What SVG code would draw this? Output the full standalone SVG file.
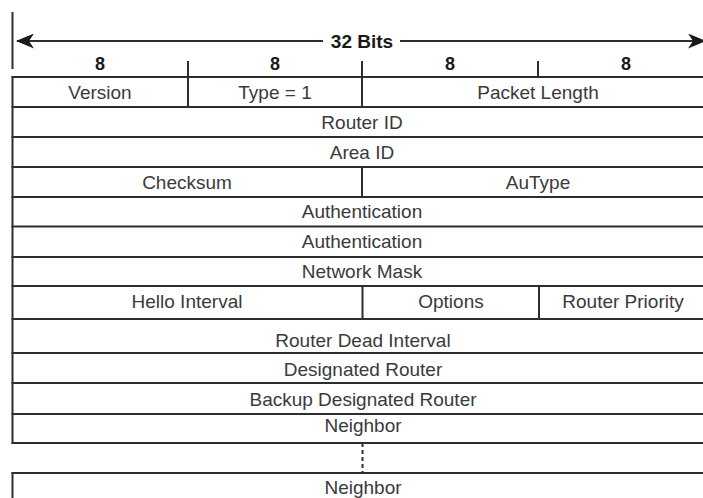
<svg xmlns="http://www.w3.org/2000/svg" width="703" height="498" viewBox="0 0 703 498">
<defs>
<marker id="ah" viewBox="0 0 18 15" refX="17" refY="7.5" markerWidth="18" markerHeight="15" markerUnits="userSpaceOnUse" orient="auto">
<path d="M0,0 L18,7.5 L0,15 L5,7.5 Z" fill="#1a1a1a"/>
</marker>
<style>
.ln{stroke:#2e2e2e;stroke-width:2;fill:none}
.t{font-family:"Liberation Sans",Arial,sans-serif;font-size:19px;fill:#3a3a3a;text-anchor:middle}
.h{font-family:"Liberation Sans",Arial,sans-serif;font-weight:bold;fill:#1a1a1a;text-anchor:middle}
</style>
</defs>
<rect width="703" height="498" fill="#fff"/>

<g id="header">
<line class="ln" x1="12.5" y1="12" x2="12.5" y2="69"/>
<line class="ln" x1="188" y1="61" x2="188" y2="77"/>
<line class="ln" x1="362" y1="61" x2="362" y2="77"/>
<line class="ln" x1="538" y1="61" x2="538" y2="77"/>
<text class="h" x="362" y="48" font-size="19">32 Bits</text>
<text class="h" x="100" y="69.5" font-size="18">8</text>
<text class="h" x="275" y="69.5" font-size="18">8</text>
<text class="h" x="450" y="69.5" font-size="18">8</text>
<text class="h" x="626" y="69.5" font-size="18">8</text>
</g>

<g id="connectors">
<line class="ln" x1="323" y1="41" x2="17" y2="41" marker-end="url(#ah)"/>
<line class="ln" x1="400" y1="41" x2="705" y2="41" marker-end="url(#ah)"/>
<line class="ln" x1="362.5" y1="443" x2="362.5" y2="473" stroke-dasharray="4,3"/>
</g>

<g id="table-frame">
<line class="ln" x1="12.5" y1="76" x2="12.5" y2="444"/>
<line class="ln" x1="12.5" y1="472" x2="12.5" y2="498"/>
<line class="ln" x1="11.5" y1="77" x2="703" y2="77"/>
<line class="ln" x1="11.5" y1="107" x2="703" y2="107"/>
<line class="ln" x1="11.5" y1="137" x2="703" y2="137"/>
<line class="ln" x1="11.5" y1="167" x2="703" y2="167"/>
<line class="ln" x1="11.5" y1="197" x2="703" y2="197"/>
<line class="ln" x1="11.5" y1="226.5" x2="703" y2="226.5"/>
<line class="ln" x1="11.5" y1="257" x2="703" y2="257"/>
<line class="ln" x1="11.5" y1="286" x2="703" y2="286"/>
<line class="ln" x1="11.5" y1="319" x2="703" y2="319"/>
<line class="ln" x1="11.5" y1="353" x2="703" y2="353"/>
<line class="ln" x1="11.5" y1="383" x2="703" y2="383"/>
<line class="ln" x1="11.5" y1="414" x2="703" y2="414"/>
<line class="ln" x1="11.5" y1="443" x2="703" y2="443"/>
<line class="ln" x1="11.5" y1="473" x2="703" y2="473"/>
<line class="ln" x1="188" y1="77" x2="188" y2="107"/>
<line class="ln" x1="362" y1="77" x2="362" y2="107"/>
<line class="ln" x1="362" y1="167" x2="362" y2="197"/>
<line class="ln" x1="362.5" y1="286" x2="362.5" y2="319"/>
<line class="ln" x1="539" y1="286" x2="539" y2="319"/>
</g>

<g id="version"><text class="t" x="100" y="98.5">Version</text></g>
<g id="type"><text class="t" x="275" y="98.5">Type = 1</text></g>
<g id="packet-length"><text class="t" x="538" y="99">Packet Length</text></g>
<g id="router-id"><text class="t" x="362" y="128.5">Router ID</text></g>
<g id="area-id"><text class="t" x="362" y="158.5">Area ID</text></g>
<g id="checksum"><text class="t" x="187" y="189">Checksum</text></g>
<g id="autype"><text class="t" x="538" y="189">AuType</text></g>
<g id="authentication-1"><text class="t" x="362" y="218">Authentication</text></g>
<g id="authentication-2"><text class="t" x="362" y="248">Authentication</text></g>
<g id="network-mask"><text class="t" x="362" y="278">Network Mask</text></g>
<g id="hello-interval"><text class="t" x="187" y="307.5">Hello Interval</text></g>
<g id="options"><text class="t" x="451" y="307.5">Options</text></g>
<g id="router-priority"><text class="t" x="623" y="307.5">Router Priority</text></g>
<g id="router-dead-interval"><text class="t" x="363" y="347">Router Dead Interval</text></g>
<g id="designated-router"><text class="t" x="363" y="376">Designated Router</text></g>
<g id="backup-designated-router"><text class="t" x="363" y="406">Backup Designated Router</text></g>
<g id="neighbor-1"><text class="t" x="363" y="432">Neighbor</text></g>
<g id="neighbor-n"><text class="t" x="363" y="494">Neighbor</text></g>
</svg>
